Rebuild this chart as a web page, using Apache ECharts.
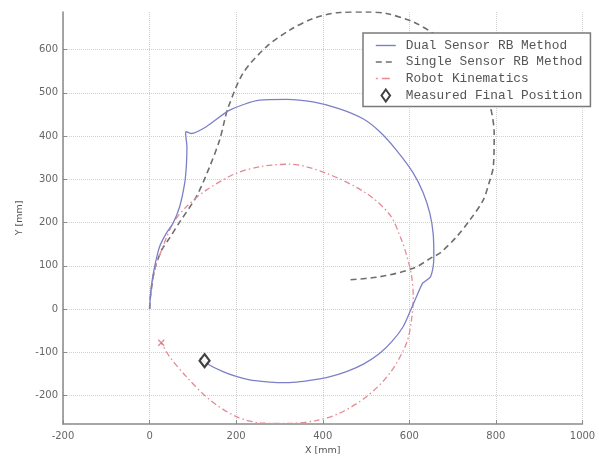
<!DOCTYPE html>
<html>
<head>
<meta charset="utf-8">
<style>html,body{margin:0;padding:0;background:#fff;}#chart{width:599px;height:458px;}</style>
<script src="https://cdn.jsdelivr.net/npm/echarts@6/dist/echarts.min.js"></script>
</head>
<body>
<div id="chart"></div>
<script>
var xTicks = [-200, 0, 200, 400, 600, 800, 1000];
var yTicks = [-200, -100, 0, 100, 200, 300, 400, 500, 600];

var dualSensor = [
  [0,0],[3.9,51.6],[11.6,97.8],[23.1,144],[38.5,175],[54,198],[69.4,236.5],[81,290.6],
  [84.8,329],[86.3,375],[83.2,406],[84.8,410],[96.4,406],[131,421.6],[185,460],[254,483],
  [316,485],[377.6,479],[439,463],[493,440],[531.8,410],[570,367.6],[608.8,315],
  [632,268.7],[647.4,221],[655,175],[656.6,121],[655,98],[649,75],[636,63.5],[630.6,60],
  [616.6,29],[600,-10],[585.7,-41],[560,-75],[531.8,-102.4],[495,-127],[454.8,-145],
  [415,-157],[377.6,-164],[340,-169],[300.6,-170.4],[265,-168],[231.2,-164],[200,-156],
  [169.5,-145],[131,-125.5],[116,-113]
];

var singleSensor = [
  [0,0],[2.3,32],[11.6,90],[27.7,136],[46,164],[69.4,201],[108,260],[138.7,329],[161.8,391],
  [173.4,437],[181,465],[215.7,545],[269.8,606.5],[323.7,645],[377.6,672],[439,686],
  [501,687],[547,683.7],[608.8,664],[655,637.5],[717,588],[763,530],[786,472],[796,406],
  [794,329],[786,298],[770.6,252],[740,206],[709,167],[670.5,129],[655,121],[609,94],
  [532,74.7],[455,67]
];

var robotKinematics = [
  [0,0],[2.3,32],[11.6,90],[27.7,136],[54,198],[84.8,236.5],[131,275],[200,314],[260,330],
  [323.7,335],[408.5,314],[501,267.5],[555,218],[580,165],[595,120],[605,78],
  [609,28.4],[605,-25.4],[593.5,-79],[555,-148.7],[501,-202.8],[439,-241],[385,-258],
  [323.7,-264.7],[262,-264],[200.5,-249],[138.7,-210],[84.8,-156.5],[46,-110],[27,-78]
];

var robotEnd = [[27,-78]];
var measuredFinal = [[127,-119.5]];

var seriesNames = ['Dual Sensor RB Method', 'Single Sensor RB Method', 'Robot Kinematics', 'Measured Final Position'];

var chart = echarts.init(document.getElementById('chart'), null, {renderer: 'canvas'});
var axisFont = {fontFamily: 'DejaVu Sans', fontSize: 10, color: '#666'};
var hiddenSymbol = {color: 'rgba(0,0,0,0)', borderWidth: 0, borderColor: 'rgba(0,0,0,0)', opacity: 0};

chart.setOption({
  animation: false,
  backgroundColor: '#fff',
  grid: {left: 63, right: 16.5, top: 12, bottom: 34, containLabel: false, outerBoundsMode: 'none'},
  xAxis: {
    type: 'value', min: xTicks[0], max: xTicks[xTicks.length - 1], interval: 200,
    name: 'X [mm]', nameLocation: 'middle', nameGap: 21,
    nameTextStyle: {fontFamily: 'DejaVu Sans', fontSize: 9.5, color: '#555'},
    axisLine: {show: true, onZero: false, lineStyle: {color: '#8a8a8a', width: 1.5}},
    axisTick: {show: true, inside: true, length: 4, lineStyle: {color: '#8a8a8a'}},
    axisLabel: Object.assign({margin: 7, formatter: function (v) { return String(v); }}, axisFont),
    splitLine: {show: true, lineStyle: {color: '#d0d0d0', type: 'dotted', width: 1}}
  },
  yAxis: {
    type: 'value', min: -266, max: 687, minInterval: 100, maxInterval: 100,
    name: 'Y [mm]', nameLocation: 'middle', nameGap: 37, nameRotate: 90,
    nameTextStyle: {fontFamily: 'DejaVu Sans', fontSize: 9.5, color: '#555'},
    axisLine: {show: true, onZero: false, lineStyle: {color: '#8a8a8a', width: 1.5}},
    axisTick: {show: true, inside: true, length: 4, lineStyle: {color: '#8a8a8a'}},
    axisLabel: Object.assign({
      margin: 5, showMinLabel: false, showMaxLabel: false,
      formatter: function (v) { return yTicks.indexOf(v) >= 0 ? String(v) : ''; }
    }, axisFont),
    splitLine: {show: true, showMinLine: false, showMaxLine: false, lineStyle: {color: '#d0d0d0', type: 'dotted', width: 1}}
  },
  legend: {
    orient: 'vertical', left: 363, top: 33,
    padding: [6, 8, 4, 12],
    backgroundColor: '#fff', borderColor: '#7a7a7a', borderWidth: 1.5, borderRadius: 0,
    itemWidth: 20, itemHeight: 12, itemGap: 3.5, symbolKeepAspect: true,
    textStyle: {fontFamily: 'Liberation Mono', fontSize: 12.8, color: '#555', lineHeight: 12, padding: [0, 0, 0, 5]},
    data: [
      {name: seriesNames[0], itemStyle: hiddenSymbol, lineStyle: {width: 1.4}},
      {name: seriesNames[1], itemStyle: hiddenSymbol, lineStyle: {width: 1.6}},
      {name: seriesNames[2], itemStyle: hiddenSymbol, lineStyle: {width: 1.4, type: [2, 4, 8, 6]}},
      {name: seriesNames[3], icon: 'path://M5,0L10,7L5,14L0,7Z'}
    ]
  },
  series: [
    {
      name: seriesNames[1], type: 'line', data: singleSensor, showSymbol: false, symbol: 'none', smooth: 0.3,
      lineStyle: {color: '#6e6e6e', width: 1.6, type: [6, 4]}, itemStyle: {color: '#6e6e6e'}, z: 2
    },
    {
      name: seriesNames[2], type: 'line', data: robotKinematics, showSymbol: false, symbol: 'none', smooth: 0.3,
      lineStyle: {color: '#e58a94', width: 1.3, type: [6, 3, 1.5, 3]}, itemStyle: {color: '#e0606e'}, z: 3
    },
    {
      name: seriesNames[0], type: 'line', data: dualSensor, showSymbol: false, symbol: 'none', smooth: 0.25,
      lineStyle: {color: '#7c80c6', width: 1.3}, itemStyle: {color: '#7c80c6'}, z: 4
    },
    {
      name: 'Robot Kinematics End', type: 'scatter', data: robotEnd,
      symbol: 'path://M0,0L10,10M10,0L0,10', symbolSize: 6,
      itemStyle: {color: 'none', borderColor: '#e0606e', borderWidth: 1.2}, z: 5
    },
    {
      name: seriesNames[3], type: 'scatter', data: measuredFinal,
      symbol: 'diamond', symbolSize: [10, 13], symbolKeepAspect: true,
      itemStyle: {color: '#fff', borderColor: '#111', borderWidth: 2.2}, z: 6
    }
  ]
});
</script>
</body>
</html>
